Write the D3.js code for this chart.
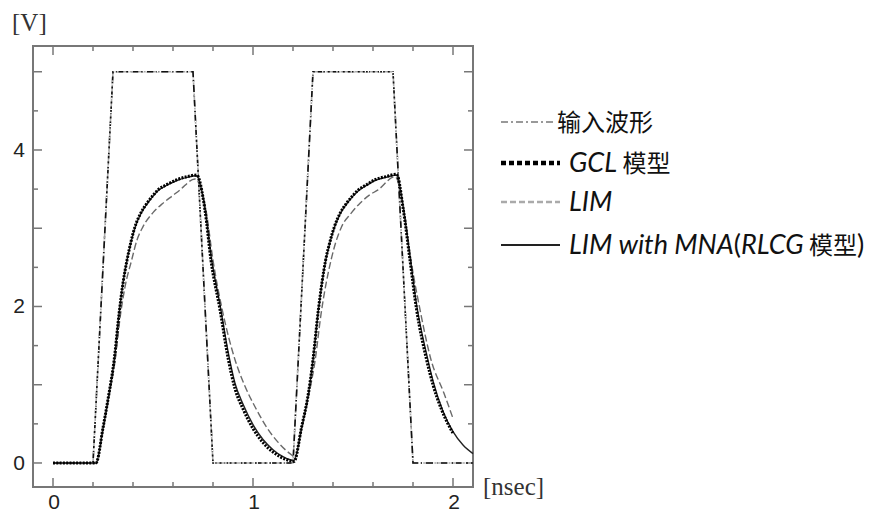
<!DOCTYPE html>
<html>
<head>
<meta charset="utf-8">
<script src="https://cdn.jsdelivr.net/npm/d3@7/dist/d3.min.js"></script>
<style>
  body { margin: 0; background: #fff; }
</style>
</head>
<body>
<div id="chart"></div>
<script>
// ---- datos (t en nsec, V en voltios) ----
const inputT = [0, 0.2, 0.3, 0.7, 0.8, 1.2, 1.3, 1.7, 1.8, 2.1];
const inputV = [0, 0, 5, 5, 0, 0, 5, 5, 0, 0];

const gclT = [0, 0.1, 0.215, 0.25, 0.28, 0.306, 0.33, 0.35, 0.37, 0.39, 0.41, 0.44, 0.47, 0.5, 0.525, 0.57, 0.62, 0.67, 0.718,
              0.76, 0.79, 0.835, 0.877, 0.91, 0.952, 1.0, 1.05, 1.1, 1.135, 1.17, 1.205,
              1.243, 1.277, 1.30, 1.327, 1.363, 1.385, 1.407, 1.437, 1.468, 1.5, 1.527, 1.57, 1.61, 1.665, 1.718,
              1.752, 1.785, 1.818, 1.868, 1.9, 1.943, 2.0];
const gclV = [0, 0, 0, 0.45, 0.89, 1.32, 1.9, 2.3, 2.59, 2.83, 3.02, 3.2, 3.32, 3.42, 3.49, 3.56, 3.62, 3.66, 3.68,
              3.23, 2.59, 1.96, 1.32, 0.95, 0.68, 0.44, 0.26, 0.14, 0.08, 0.04, 0.02,
              0.46, 0.89, 1.32, 1.96, 2.59, 2.83, 3.02, 3.2, 3.32, 3.42, 3.49, 3.56, 3.62, 3.66, 3.69,
              3.23, 2.59, 1.96, 1.32, 1.0, 0.68, 0.38];

const limT = [0, 0.1, 0.215, 0.25, 0.28, 0.31, 0.335, 0.36, 0.393, 0.42, 0.45, 0.5, 0.55, 0.6, 0.635, 0.71,
              0.765, 0.80, 0.846, 0.91, 0.96, 1.018, 1.07, 1.127, 1.185, 1.21,
              1.245, 1.28, 1.31, 1.34, 1.39, 1.415, 1.443, 1.49, 1.535, 1.58, 1.625, 1.71,
              1.755, 1.79, 1.835, 1.89, 1.955, 2.0];
const limV = [0, 0, 0, 0.42, 0.85, 1.3, 1.85, 2.25, 2.59, 2.85, 3.02, 3.2, 3.32, 3.42, 3.49, 3.63,
              3.23, 2.59, 1.96, 1.32, 0.98, 0.68, 0.45, 0.26, 0.12, 0.08,
              0.45, 0.88, 1.3, 1.9, 2.59, 2.83, 3.02, 3.19, 3.32, 3.42, 3.49, 3.66,
              3.23, 2.59, 1.96, 1.32, 0.89, 0.57];

const mnaT = [0, 0.1, 0.215, 0.25, 0.28, 0.306, 0.33, 0.35, 0.37, 0.39, 0.41, 0.44, 0.47, 0.5, 0.525, 0.57, 0.62, 0.67, 0.718,
              0.76, 0.79, 0.835, 0.877, 0.91, 0.952, 1.0, 1.05, 1.1, 1.15, 1.205,
              1.243, 1.277, 1.30, 1.327, 1.363, 1.385, 1.407, 1.437, 1.468, 1.5, 1.527, 1.57, 1.61, 1.665, 1.718,
              1.752, 1.785, 1.818, 1.868, 1.9, 1.95, 2.0, 2.05, 2.1];
const mnaV = [0, 0, 0, 0.44, 0.88, 1.31, 1.9, 2.3, 2.59, 2.82, 3.01, 3.19, 3.31, 3.41, 3.48, 3.55, 3.61, 3.65, 3.67,
              3.25, 2.65, 2.02, 1.40, 1.02, 0.74, 0.49, 0.30, 0.17, 0.08, 0.03,
              0.45, 0.88, 1.31, 1.95, 2.58, 2.82, 3.01, 3.19, 3.31, 3.41, 3.48, 3.55, 3.61, 3.65, 3.68,
              3.25, 2.64, 2.02, 1.39, 1.05, 0.66, 0.40, 0.23, 0.12];

const xTicks = [0, 0.2, 0.4, 0.6, 0.8, 1.0, 1.2, 1.4, 1.6, 1.8, 2.0];
const xLabels = [0, 1, 2];
const yTicks = [0, 0.5, 1, 1.5, 2, 2.5, 3, 3.5, 4, 4.5, 5];
const yLabels = [0, 2, 4];

const legendItems = ["输入波形", "GCL 模型", "LIM", "LIM with MNA(RLCG 模型)"];

// ---- lienzo ----
const width = 876, height = 512;
const frame = { left: 33, right: 473, top: 46, bottom: 487 };

const svg = d3.select("#chart").append("svg")
    .attr("width", width)
    .attr("height", height);

const x = d3.scaleLinear().domain([-0.1, 2.1]).range([frame.left, frame.right]);
const y = d3.scaleLinear().domain([-0.307, 5.329]).range([frame.bottom, frame.top]);

const axisColor = "#777";

// marco
svg.append("rect")
    .attr("x", frame.left).attr("y", frame.top)
    .attr("width", frame.right - frame.left)
    .attr("height", frame.bottom - frame.top)
    .attr("fill", "none")
    .attr("stroke", axisColor)
    .attr("stroke-width", 2);

// ticks hacia adentro en los cuatro lados
const isMajor = v => Math.abs(v - Math.round(v)) < 1e-6;
xTicks.forEach(t => {
    const len = isMajor(t) ? 9 : 5;
    svg.append("line").attr("x1", x(t)).attr("x2", x(t))
        .attr("y1", frame.bottom).attr("y2", frame.bottom - len)
        .attr("stroke", axisColor).attr("stroke-width", 1.5);
    svg.append("line").attr("x1", x(t)).attr("x2", x(t))
        .attr("y1", frame.top).attr("y2", frame.top + len)
        .attr("stroke", axisColor).attr("stroke-width", 1.5);
});
yTicks.forEach(v => {
    const len = isMajor(v) ? 9 : 5;
    svg.append("line").attr("y1", y(v)).attr("y2", y(v))
        .attr("x1", frame.left).attr("x2", frame.left + len)
        .attr("stroke", axisColor).attr("stroke-width", 1.5);
    svg.append("line").attr("y1", y(v)).attr("y2", y(v))
        .attr("x1", frame.right).attr("x2", frame.right - len)
        .attr("stroke", axisColor).attr("stroke-width", 1.5);
});

// etiquetas de ejes
svg.selectAll(".xlab").data(xLabels).enter().append("text")
    .attr("x", d => x(d) + 1)
    .attr("y", 509)
    .attr("text-anchor", "middle")
    .style("font-family", "'Liberation Sans', Arial, sans-serif")
    .style("font-size", "21px")
    .style("fill", "#222")
    .text(d => d);

svg.selectAll(".ylab").data(yLabels).enter().append("text")
    .attr("x", 25)
    .attr("y", d => y(d) + 7)
    .attr("text-anchor", "end")
    .style("font-family", "'Liberation Sans', Arial, sans-serif")
    .style("font-size", "21px")
    .style("fill", "#222")
    .text(d => d);

svg.append("text")
    .attr("x", 12).attr("y", 31)
    .style("font-family", "'Liberation Serif', 'Times New Roman', serif")
    .style("font-size", "25px")
    .style("fill", "#333")
    .text("[V]");

svg.append("text")
    .attr("x", 483).attr("y", 495)
    .style("font-family", "'Liberation Serif', 'Times New Roman', serif")
    .style("font-size", "25px")
    .style("fill", "#333")
    .text("[nsec]");

// ---- curvas ----
const toPts = (ts, vs) => ts.map((t, i) => [t, vs[i]]);
const lineLinear = d3.line().x(d => x(d[0])).y(d => y(d[1]));
const lineSmooth = d3.line().x(d => x(d[0])).y(d => y(d[1])).curve(d3.curveMonotoneX);

// entrada: guion-punto, mezcla gris / negro
svg.append("path")
    .attr("d", lineLinear(toPts(inputT, inputV)))
    .attr("fill", "none")
    .attr("stroke", "#aaa")
    .attr("stroke-width", 1.6);
svg.append("path")
    .attr("d", lineLinear(toPts(inputT, inputV)))
    .attr("fill", "none")
    .attr("stroke", "#111")
    .attr("stroke-width", 1.6)
    .attr("stroke-dasharray", "7,3,2,3");
svg.append("path")
    .attr("d", lineLinear(toPts(inputT, inputV)))
    .attr("fill", "none")
    .attr("stroke", "#fff")
    .attr("stroke-width", 2)
    .attr("stroke-dasharray", "0,7,1.2,1.8,1.2,3");

// LIM: gris discontinua
svg.append("path")
    .attr("d", lineSmooth(toPts(limT, limV)))
    .attr("fill", "none")
    .attr("stroke", "#6a6a6a")
    .attr("stroke-width", 1.4)
    .attr("stroke-dasharray", "7,3");

// LIM with MNA: línea continua fina
svg.append("path")
    .attr("d", lineSmooth(toPts(mnaT, mnaV)))
    .attr("fill", "none")
    .attr("stroke", "#222")
    .attr("stroke-width", 1.4);

// GCL: punteado grueso negro
svg.append("path")
    .attr("d", lineSmooth(toPts(gclT, gclV)))
    .attr("fill", "none")
    .attr("stroke", "#000")
    .attr("stroke-width", 3)
    .attr("stroke-dasharray", "2,1.3");

// ---- leyenda ----
const legY = [122, 163, 202, 245];
const lx0 = 501, lx1 = 560;
const leg = svg.append("g");

// símbolo 1: guion-punto gris
leg.append("line").attr("x1", lx0).attr("x2", 556).attr("y1", legY[0]).attr("y2", legY[0])
    .attr("stroke", "#999").attr("stroke-width", 2.2).attr("stroke-dasharray", "7,3,2,3");
// símbolo 2: cuadrados negros
leg.append("line").attr("x1", lx0).attr("x2", lx1).attr("y1", legY[1]).attr("y2", legY[1])
    .attr("stroke", "#000").attr("stroke-width", 4.5).attr("stroke-dasharray", "5,3");
// símbolo 3: guiones gris claro
leg.append("line").attr("x1", lx0).attr("x2", lx1).attr("y1", legY[2]).attr("y2", legY[2])
    .attr("stroke", "#aaa").attr("stroke-width", 2.5).attr("stroke-dasharray", "6,3");
// símbolo 4: línea continua
leg.append("line").attr("x1", lx0).attr("x2", lx1).attr("y1", legY[3]).attr("y2", legY[3])
    .attr("stroke", "#222").attr("stroke-width", 1.8);

const latinFont = "Lato, 'Noto Sans CJK SC', sans-serif";
const cjkFont = "'Noto Sans CJK SC', sans-serif";

function legText(xPos, yPos) {
    return leg.append("text")
        .attr("x", xPos).attr("y", yPos + 9)
        .style("font-family", latinFont)
        .style("font-size", "27px")
        .style("fill", "#111");
}
const cjk = sel => sel.style("font-family", cjkFont).style("font-size", "24px");

cjk(legText(557, legY[0]).append("tspan")).text(legendItems[0]);

const t2 = legText(569, legY[1]);
t2.append("tspan").style("font-style", "italic").text("GCL");
cjk(t2.append("tspan")).text(" 模型");

legText(569, legY[2]).append("tspan").style("font-style", "italic").text(legendItems[2]);

const t4 = legText(569, legY[3]);
t4.append("tspan").style("font-style", "italic").text("LIM with MNA");
t4.append("tspan").text("(");
t4.append("tspan").style("font-style", "italic").text("RLCG");
cjk(t4.append("tspan")).text(" 模型");
t4.append("tspan").text(")");
</script>
</body>
</html>
